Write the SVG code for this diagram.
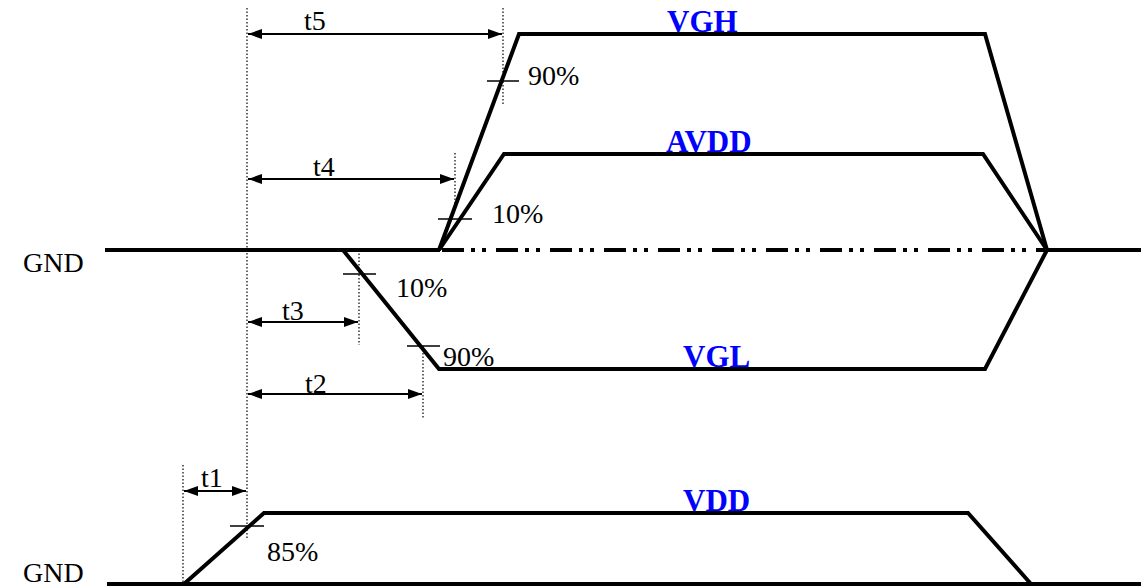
<svg xmlns="http://www.w3.org/2000/svg" width="1141" height="587" viewBox="0 0 1141 587">
<defs>
<style>
.sig{fill:none;stroke:#000;stroke-width:4;stroke-linejoin:miter}
.dd{fill:none;stroke:#000;stroke-width:4;stroke-dasharray:22 7 4 7 4 10}
.dot{stroke:#000;stroke-width:1.2;stroke-dasharray:1.5 2}
.tick{stroke:#000;stroke-width:1.5}
.arr{stroke:#000;stroke-width:2;marker-start:url(#ah);marker-end:url(#ah)}
.t{font-family:"Liberation Serif","Times New Roman",serif;font-size:28px;fill:#000}
.lab{font-family:"Liberation Serif","Times New Roman",serif;font-size:31px;font-weight:bold;fill:#0000FF}
</style>
<marker id="ah" viewBox="0 0 14 10" refX="14" refY="5" markerWidth="14" markerHeight="10" markerUnits="userSpaceOnUse" orient="auto-start-reverse">
<path d="M0,0 L14,5 L0,10 Z" fill="#000"/>
</marker>
</defs>
<rect width="1141" height="587" fill="#fff"/>
<g id="gnd">
<line class="sig" x1="105" y1="250" x2="440" y2="250"/>
<line class="dd" x1="442" y1="250" x2="1045" y2="250"/>
<line class="sig" x1="1047" y1="250" x2="1141" y2="250"/>
<text class="t" x="23" y="272">GND</text>
</g>
<g id="vgh">
<polyline class="sig" points="439,250 519,34 985,34 1047,250"/>
<text class="lab" x="667" y="32">VGH</text>
</g>
<g id="avdd">
<polyline class="sig" points="439,250 504,154 983,154 1047,250"/>
<text class="lab" x="666" y="152">AVDD</text>
</g>
<g id="vgl">
<polyline class="sig" points="343,250 439,369 985,369 1047,250"/>
<text class="lab" x="683" y="367">VGL</text>
</g>
<g id="vdd">
<line class="sig" x1="107" y1="584" x2="1141" y2="584"/>
<polyline class="sig" points="184,584 264,513 968,513 1031,584"/>
<text class="lab" x="683" y="511">VDD</text>
<text class="t" x="23" y="582">GND</text>
</g>
<g id="connectors">
<line class="dot" x1="247" y1="8" x2="247" y2="538"/>
<line class="dot" x1="503" y1="8" x2="503" y2="105"/>
<line class="dot" x1="455" y1="153" x2="455" y2="205"/>
<line class="dot" x1="359" y1="250" x2="359" y2="345"/>
<line class="dot" x1="423" y1="346" x2="423" y2="418"/>
<line class="dot" x1="183" y1="465" x2="183" y2="584"/>
<line class="arr" x1="248" y1="34" x2="502" y2="34"/>
<line class="arr" x1="248" y1="179" x2="454" y2="179"/>
<line class="arr" x1="248" y1="322" x2="358" y2="322"/>
<line class="arr" x1="248" y1="394" x2="422" y2="394"/>
<line class="arr" x1="184" y1="491" x2="246" y2="491"/>
<line class="tick" x1="487" y1="81" x2="519" y2="81"/>
<line class="tick" x1="438" y1="219" x2="472" y2="219"/>
<line class="tick" x1="343" y1="274" x2="376" y2="274"/>
<line class="tick" x1="407" y1="346" x2="440" y2="346"/>
<line class="tick" x1="230" y1="526" x2="264" y2="526"/>
<text class="t" x="304" y="30">t5</text>
<text class="t" x="313" y="176">t4</text>
<text class="t" x="282" y="320">t3</text>
<text class="t" x="305" y="393">t2</text>
<text class="t" x="201" y="487">t1</text>
<text class="t" x="528" y="85">90%</text>
<text class="t" x="492" y="223">10%</text>
<text class="t" x="396" y="297">10%</text>
<text class="t" x="443" y="366">90%</text>
<text class="t" x="267" y="561">85%</text>
</g>
</svg>
